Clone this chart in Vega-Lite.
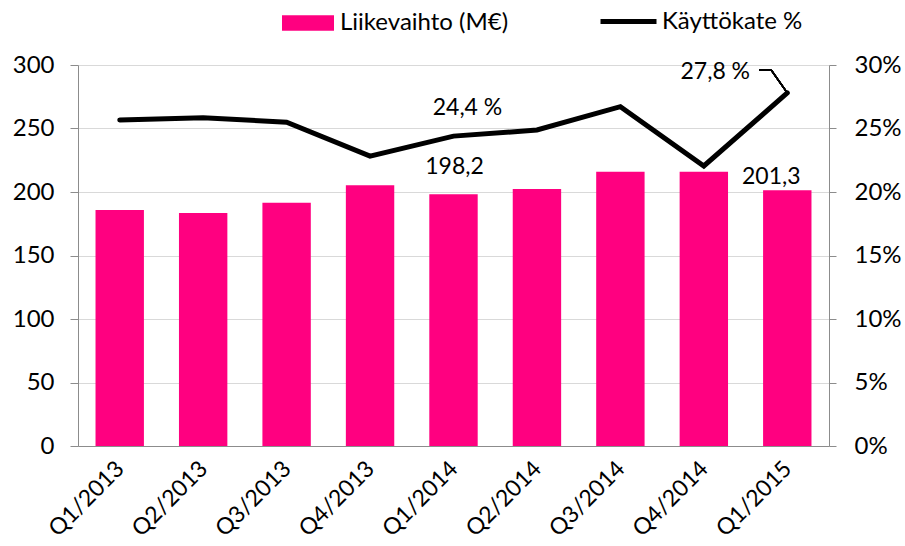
{
  "$schema": "https://vega.github.io/schema/vega-lite/v6.json",
  "width": 751,
  "height": 381,
  "autosize": {"type": "none"},
  "padding": {"left": 78, "top": 65, "right": 76, "bottom": 100},
  "background": "white",
  "config": {
    "font": "Lato",
    "view": {"stroke": null},
    "axis": {"labelFont": "Lato", "labelFontSize": 24, "labelColor": "black", "domainColor": "#8C8C8C", "tickColor": "#8C8C8C", "gridColor": "#D9D9D9", "title": null}
  },
  "data": {
    "values": [
      {"q": "Q1/2013", "lv": 185.8, "kk": 25.67},
      {"q": "Q2/2013", "lv": 183.5, "kk": 25.85},
      {"q": "Q3/2013", "lv": 191.6, "kk": 25.49},
      {"q": "Q4/2013", "lv": 205.3, "kk": 22.83},
      {"q": "Q1/2014", "lv": 198.2, "kk": 24.4, "lvLabel": "198,2", "kkLabel": "24,4 %"},
      {"q": "Q2/2014", "lv": 202.4, "kk": 24.88},
      {"q": "Q3/2014", "lv": 216.0, "kk": 26.72},
      {"q": "Q4/2014", "lv": 216.0, "kk": 22.05},
      {"q": "Q1/2015", "lv": 201.3, "kk": 27.8, "lvLabel": "201,3", "kkLabel": "27,8 %"}
    ]
  },
  "encoding": {
    "x": {"field": "q", "type": "ordinal", "sort": null, "scale": {"paddingInner": 0.42, "paddingOuter": 0.21},
      "axis": {"labelAngle": -45, "ticks": false, "domain": true, "labelPadding": 11, "labelOffset": -7, "labelFontSize": 23, "labelLimit": 300}}
  },
  "layer": [
    {
      "layer": [
        {
          "mark": {"type": "bar", "color": "#FF0080"},
          "encoding": {
            "y": {"field": "lv", "type": "quantitative", "scale": {"domain": [0, 300]},
              "axis": {"values": [0, 50, 100, 150, 200, 250, 300], "grid": true, "tickSize": 8, "labelPadding": 16, "domain": true}},
            "fill": {"datum": "Liikevaihto (M€)", "type": "nominal", "scale": {"range": ["#FF0080"]},
              "legend": {"orient": "none", "legendX": 204, "legendY": -68, "title": null, "padding": 0, "labelLimit": 400,
                "symbolType": "M-1,-0.3H1V0.3H-1Z", "symbolSize": 2704, "symbolStrokeWidth": 0, "labelFontSize": 24, "labelOffset": 6, "labelColor": "black", "labelFont": "Lato"}}
          }
        },
        {
          "mark": {"type": "text", "fontSize": 23, "font": "Lato", "baseline": "middle", "align": "center", "color": "black", "dx": 1, "dy": -27},
          "transform": [{"filter": "datum.q == 'Q1/2014'"}],
          "encoding": {
            "x": {"field": "q", "type": "ordinal", "sort": null, "bandPosition": 0.5},
            "y": {"field": "lv", "type": "quantitative", "scale": {"domain": [0, 300]}},
            "text": {"field": "lvLabel"}
          }
        },
        {
          "mark": {"type": "text", "fontSize": 23, "font": "Lato", "baseline": "middle", "align": "center", "color": "black", "dx": -16, "dy": -13},
          "transform": [{"filter": "datum.q == 'Q1/2015'"}],
          "encoding": {
            "x": {"field": "q", "type": "ordinal", "sort": null, "bandPosition": 0.5},
            "y": {"field": "lv", "type": "quantitative", "scale": {"domain": [0, 300]}},
            "text": {"field": "lvLabel"}
          }
        }
      ]
    },
    {
      "layer": [
        {
          "mark": {"type": "line", "color": "black", "strokeWidth": 5, "strokeJoin": "miter", "strokeCap": "round"},
          "encoding": {
            "y": {"field": "kk", "type": "quantitative", "scale": {"domain": [0, 30]},
              "axis": {"orient": "right", "values": [0, 5, 10, 15, 20, 25, 30], "labelExpr": "datum.value + '%'", "grid": false, "tickSize": 7, "labelPadding": 18}},
            "stroke": {"datum": "Käyttökate %", "type": "nominal", "scale": {"range": ["black"]},
              "legend": {"orient": "none", "legendX": 520, "legendY": -74, "title": null, "padding": 0, "labelLimit": 400,
                "symbolType": "stroke", "symbolSize": 3136, "symbolStrokeWidth": 5, "labelFontSize": 24, "labelOffset": 3, "labelColor": "black", "labelFont": "Lato"}}
          }
        },
        {
          "mark": {"type": "text", "fontSize": 23, "font": "Lato", "baseline": "middle", "align": "center", "color": "black", "dx": 14, "dy": -28},
          "transform": [{"filter": "datum.q == 'Q1/2014'"}],
          "encoding": {
            "x": {"field": "q", "type": "ordinal", "sort": null, "bandPosition": 0.5},
            "y": {"field": "kk", "type": "quantitative", "scale": {"domain": [0, 30]}},
            "text": {"field": "kkLabel"}
          }
        },
        {
          "mark": {"type": "text", "fontSize": 23, "font": "Lato", "baseline": "middle", "align": "center", "color": "black", "dx": -72, "dy": -21},
          "transform": [{"filter": "datum.q == 'Q1/2015'"}],
          "encoding": {
            "x": {"field": "q", "type": "ordinal", "sort": null, "bandPosition": 0.5},
            "y": {"field": "kk", "type": "quantitative", "scale": {"domain": [0, 30]}},
            "text": {"field": "kkLabel"}
          }
        },
        {
          "mark": {"type": "rule", "color": "black", "strokeWidth": 1.5, "x2Offset": -16},
          "encoding": {
            "x": {"datum": "Q1/2015", "bandPosition": 0.5},
            "x2": {"datum": "Q1/2015", "bandPosition": 0.5},
            "y": {"datum": 27.8, "type": "quantitative", "scale": {"domain": [0, 30]}},
            "y2": {"datum": 29.6}
          }
        },
        {
          "mark": {"type": "rule", "color": "black", "strokeWidth": 1.5, "xOffset": -16, "x2Offset": -28},
          "encoding": {
            "x": {"datum": "Q1/2015", "bandPosition": 0.5},
            "x2": {"datum": "Q1/2015", "bandPosition": 0.5},
            "y": {"datum": 29.6, "type": "quantitative", "scale": {"domain": [0, 30]}}
          }
        }
      ]
    }
  ],
  "resolve": {"scale": {"y": "independent"}}
}
